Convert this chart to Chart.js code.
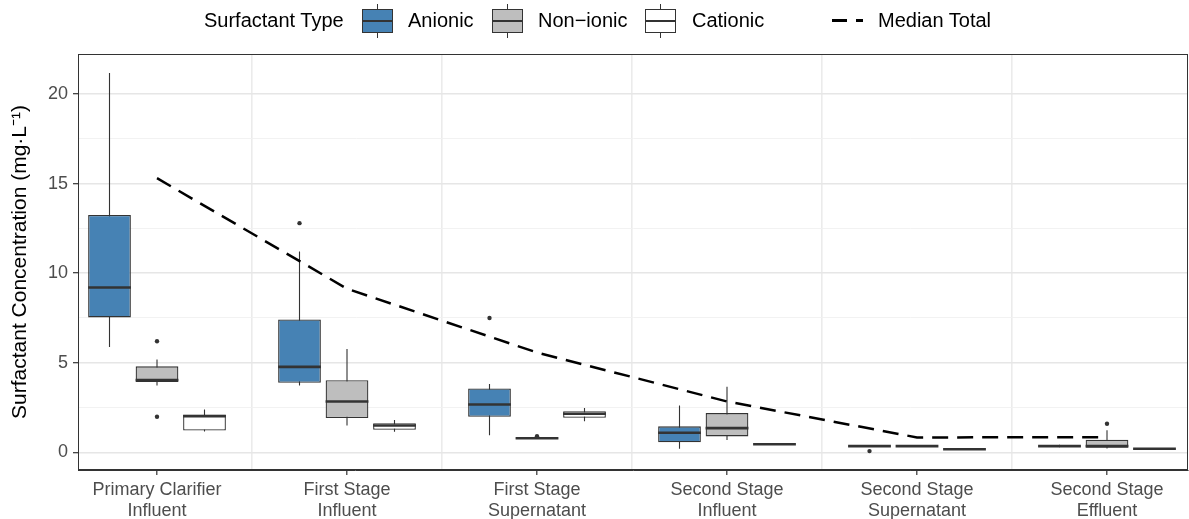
<!DOCTYPE html>
<html lang="en">
<head>
<meta charset="UTF-8">
<title>Surfactant Concentration by Stage</title>
<script src="https://cdn.jsdelivr.net/npm/chart.js"></script>
<style>
  body { margin: 0; background: #fff; font-family: "Liberation Sans", Arial, sans-serif; }
  #wrap { position: relative; width: 1189px; height: 519px; }
  #legend { position: absolute; left: 0; top: 0; width: 1189px; height: 40px; }
  #legend .txt { position: absolute; top: 0; line-height: 40px; font-size: 20px; color: #000; white-space: nowrap; }
  #legend .key { position: absolute; top: 9px; width: 29px; height: 22px; border: 1px solid #333; }
  #legend .key .med { position: absolute; left: 0; right: 0; top: 10px; height: 2px; background: #333; }
  #legend .key .wt, #legend .key .wb { position: absolute; left: 14px; width: 1px; height: 5px; background: #333; }
  #legend .key .wt { top: -6px; }
  #legend .key .wb { bottom: -6px; }
  #legend .dash { position: absolute; top: 19px; height: 3px; background: #000; }
</style>
</head>
<body>
<div id="wrap">
  <canvas id="chart" width="1189" height="519"></canvas>
  <div id="legend"></div>
</div>

<script>
const categories = [
    ['Primary Clarifier', 'Influent'],
    ['First Stage', 'Influent'],
    ['First Stage', 'Supernatant'],
    ['Second Stage', 'Influent'],
    ['Second Stage', 'Supernatant'],
    ['Second Stage', 'Effluent']
];
const typeNames = ['Anionic', 'Non\u2212ionic', 'Cationic'];
const typeColors = ['#4682B4', '#BEBEBE', '#FFFFFF'];

// [min, q1, median, q3, max] for each category
const anionic = [
    [5.88, 7.53, 9.2, 13.25, 21.17],
    [3.73, 3.88, 4.77, 7.41, 11.21],
    [0.95, 1.99, 2.67, 3.56, 3.82],
    [0.2, 0.56, 1.09, 1.45, 2.62],
    [0.31, 0.33, 0.35, 0.36, 0.38],
    [0.28, 0.32, 0.35, 0.37, 0.42]
];
const nonIonic = [
    [3.73, 3.92, 4.03, 4.8, 5.18],
    [1.5, 1.91, 2.84, 4.03, 5.77],
    [0.75, 0.77, 0.79, 0.81, 0.83],
    [0.69, 0.89, 1.35, 2.19, 3.66],
    [0.33, 0.34, 0.35, 0.36, 0.37],
    [0.22, 0.26, 0.35, 0.71, 1.24]
];
const cationic = [
    [1.17, 1.22, 2.02, 2.1, 2.39],
    [1.15, 1.26, 1.5, 1.63, 1.8],
    [1.74, 1.93, 2.15, 2.3, 2.47],
    [0.45, 0.45, 0.45, 0.45, 0.45],
    [0.17, 0.17, 0.17, 0.17, 0.17],
    [0.2, 0.2, 0.2, 0.2, 0.2]
];
const anionicOutliers = [[], [12.79], [7.5], [], [0.07], []];
const nonIonicOutliers = [[6.2, 1.99], [], [0.9], [], [], [1.6]];
const cationicOutliers = [[], [], [], [], [], []];

const medianTotal = [15.3, 9.13, 5.57, 2.84, 0.83, 0.85];

const yTicks = [0, 2.5, 5, 7.5, 10, 12.5, 15, 17.5, 20];
const xTicks = [1, 1.5, 2, 2.5, 3, 3.5, 4, 4.5, 5, 5.5, 6];

const boxSets = [anionic, nonIonic, cationic];
const outlierSets = [anionicOutliers, nonIonicOutliers, cationicOutliers];
const dodge = [-0.25, 0, 0.25];
const ink = '#333333';
const clear = 'rgba(0,0,0,0)';

let datasets = [];
datasets.push({
    type: 'line',
    label: 'Median Total',
    data: medianTotal.map((v, i) => ({ x: i + 1, y: v })),
    borderColor: '#000',
    borderWidth: 2.5,
    borderDash: [16, 9],
    borderCapStyle: 'butt',
    pointRadius: 0,
    fill: false,
    order: 0
});

boxSets.forEach((stats, t) => {
    let xs = stats.map((s, i) => i + 1 + dodge[t]);

    let pts = [];
    outlierSets[t].forEach((list, i) => list.forEach(v => pts.push({ x: xs[i], y: v })));
    datasets.push({
        type: 'scatter',
        label: typeNames[t] + ' outliers',
        data: pts,
        pointRadius: 2.2,
        pointBackgroundColor: ink,
        pointBorderWidth: 0,
        order: 1
    });

    datasets.push({
        type: 'scatter',
        label: typeNames[t] + ' median',
        data: stats.map((s, i) => ({ x: xs[i], y: s[2] })),
        pointStyle: 'line',
        pointRadius: 21.4,
        pointBorderColor: ink,
        pointBorderWidth: 2.6,
        order: 2
    });

    datasets.push({
        type: 'bar',
        label: typeNames[t],
        data: stats.map((s, i) => ({ x: xs[i], y: [s[1], s[3]] })),
        backgroundColor: typeColors[t],
        borderColor: ink,
        borderWidth: 1.3,
        borderSkipped: false,
        grouped: false,
        categoryPercentage: 1,
        barPercentage: 0.9,
        order: 3
    });

    let seg = [];
    stats.forEach((s, i) => {
        seg.push({ x: xs[i], y: s[0] }, { x: xs[i], y: s[4] }, { x: xs[i], y: null });
    });
    datasets.push({
        type: 'line',
        label: typeNames[t] + ' whiskers',
        data: seg,
        borderColor: ink,
        borderWidth: 1.1,
        pointRadius: 0,
        spanGaps: false,
        fill: false,
        order: 4
    });
});

// panel border on top and right like theme_bw
const panelBorder = {
    id: 'panelBorder',
    afterDraw(chart) {
        let a = chart.chartArea, ctx = chart.ctx;
        ctx.save();
        ctx.strokeStyle = ink;
        ctx.lineWidth = 1;
        ctx.strokeRect(Math.round(a.left) + 0.5, Math.round(a.top) + 0.5,
            Math.round(a.right - a.left) - 1, Math.round(a.bottom - a.top) - 1);
        ctx.restore();
    }
};

Chart.defaults.font.family = '"Liberation Sans", Arial, sans-serif';

new Chart(document.getElementById('chart'), {
    type: 'bar',
    data: { datasets: datasets },
    options: {
        responsive: false,
        animation: false,
        events: [],
        layout: { autoPadding: false, padding: { top: 54, right: 1, left: 0, bottom: 0 } },
        plugins: {
            legend: { display: false },
            tooltip: { enabled: false }
        },
        scales: {
            x: {
                type: 'linear',
                min: 0.5842,
                max: 6.4263,
                offset: false,
                afterBuildTicks: s => { s.ticks = xTicks.map(v => ({ value: v })); },
                afterFit: s => { s.height = 49; s.paddingLeft = 0; s.paddingRight = 0; },
                grid: {
                    offset: false,
                    color: c => Number.isInteger(c.tick.value) ? clear : '#EBEBEB',
                    lineWidth: 1.6,
                    tickColor: c => Number.isInteger(c.tick.value) ? ink : clear,
                    tickWidth: 1.2,
                    tickLength: 5
                },
                border: { color: ink, width: 1 },
                ticks: {
                    autoSkip: false,
                    maxRotation: 0,
                    minRotation: 0,
                    padding: 4,
                    color: '#4D4D4D',
                    font: { size: 18 },
                    callback: v => Number.isInteger(v) ? categories[v - 1] : ''
                }
            },
            y: {
                type: 'linear',
                min: -0.985,
                max: 22.23,
                afterBuildTicks: s => { s.ticks = yTicks.map(v => ({ value: v })); },
                afterFit: s => { s.width = 78; s.paddingTop = 0; s.paddingBottom = 0; },
                grid: {
                    color: c => c.tick.value % 5 === 0 ? '#E6E6E6' : '#F0F0F0',
                    lineWidth: c => c.tick.value % 5 === 0 ? 1.4 : 0.9,
                    tickColor: c => c.tick.value % 5 === 0 ? ink : clear,
                    tickWidth: 1.2,
                    tickLength: 5
                },
                border: { color: ink, width: 1 },
                title: {
                    display: true,
                    text: 'Surfactant Concentration (mg\u00b7L\u207b\u00b9)',
                    color: '#000',
                    font: { size: 21 },
                    padding: { top: 8, bottom: 0 }
                },
                ticks: {
                    padding: 5,
                    color: '#4D4D4D',
                    font: { size: 18 },
                    callback: v => v % 5 === 0 ? String(v) : ''
                }
            }
        }
    },
    plugins: [panelBorder]
});

// legend strip
const legend = document.getElementById('legend');
function addText(txt, left) {
    let s = document.createElement('span');
    s.className = 'txt';
    s.style.left = left + 'px';
    s.textContent = txt;
    legend.appendChild(s);
}
addText('Surfactant Type', 204);
const keyLefts = [362, 492, 645];
const textLefts = [408, 538, 692];
typeNames.forEach((name, t) => {
    let k = document.createElement('div');
    k.className = 'key';
    k.style.left = keyLefts[t] + 'px';
    k.style.background = typeColors[t];
    k.innerHTML = '<div class="med"></div><div class="wt"></div><div class="wb"></div>';
    legend.appendChild(k);
    addText(name, textLefts[t]);
});
[[832, 15], [856, 7]].forEach(d => {
    let e = document.createElement('div');
    e.className = 'dash';
    e.style.left = d[0] + 'px';
    e.style.width = d[1] + 'px';
    legend.appendChild(e);
});
addText('Median Total', 878);
</script>
</body>
</html>
